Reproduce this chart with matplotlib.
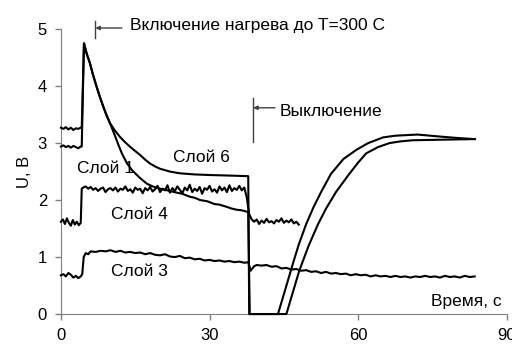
import matplotlib
matplotlib.use('Agg')
import matplotlib.pyplot as plt

plt.rcParams['font.family'] = ['Liberation Sans', 'DejaVu Sans']

# Слой 6
t6 = [0, 0.5, 1, 1.5, 2, 2.5, 3, 3.5, 4.0, 4.2, 4.65, 5.2, 5.86, 6.5, 7.2, 7.9, 8.55, 9.2, 9.9,
      10.9, 11.9, 12.9, 13.9, 15, 16, 17, 18, 19, 20, 22, 24, 27, 30, 34, 37.8, 38.0,
      45.5, 46.8, 48.1, 50, 51.9, 53.5, 55.5, 58.2, 60, 61.6, 64, 66.3, 68.5, 71, 77, 83.5]
u6 = [3.27, 3.25, 3.28, 3.24, 3.27, 3.23, 3.26, 3.25, 3.27, 3.27, 4.75, 4.57, 4.40, 4.19, 3.99, 3.80, 3.64, 3.49, 3.35,
      3.22, 3.11, 3.02, 2.94, 2.86, 2.79, 2.71, 2.64, 2.59, 2.55, 2.50, 2.47, 2.45, 2.44, 2.43, 2.42, 0,
      0, 0.38, 0.76, 1.20, 1.58, 1.85, 2.14, 2.46, 2.66, 2.82, 2.93, 3.00, 3.03, 3.05, 3.06, 3.07]

# Слой 1
t1 = [0, 0.5, 1, 1.5, 2, 2.5, 3, 3.5, 4.0, 4.2, 4.65, 5.2, 5.86, 6.5, 7.2, 7.9, 8.55, 9.2, 9.9,
      10.9, 11.6, 12.3, 13.3, 14.3, 15.8, 17.3, 18.5, 20, 21.5, 23.4, 24.5, 26, 27, 28.1, 29.5, 31, 32, 33.5,
      34.5, 35.5, 36.5, 37.8, 38.1,
      43.8, 45, 46.8, 48, 49.5, 51, 52.5, 54.5, 57, 59.6, 62, 65, 67.5, 69.7, 72, 75.8, 80, 83.5]
u1 = [2.94, 2.96, 2.93, 2.95, 2.92, 2.95, 2.93, 2.91, 2.94, 2.94, 4.75, 4.57, 4.40, 4.19, 3.99, 3.80, 3.64, 3.49, 3.35,
      3.13, 2.97, 2.82, 2.65, 2.53, 2.40, 2.29, 2.24, 2.20, 2.17, 2.13, 2.11, 2.06, 2.04, 2.00, 1.98, 1.93, 1.92, 1.88,
      1.85, 1.83, 1.82, 1.79, 0,
      0, 0.35, 0.88, 1.22, 1.58, 1.88, 2.14, 2.46, 2.72, 2.88, 3.00, 3.10, 3.13, 3.14, 3.15, 3.12, 3.09, 3.07]

# Слой 4
t4 = [0, 0.4, 0.8, 1.2, 1.6, 2.0, 2.4, 2.8, 3.2, 3.6, 4.0, 4.2,
      4.5, 5.0, 5.5, 6.0, 6.5, 7.0, 7.5, 8.0, 8.5, 9.0, 9.5, 10.0, 10.5, 11.0, 11.5, 12.0, 12.5, 13.0,
      13.5, 14.0, 14.5, 15.0, 15.5, 16.0, 16.5, 17.0, 17.5, 18.0, 18.5, 19.0, 19.5, 20.0, 20.5, 21.0,
      21.5, 22.0, 22.5, 23.0, 23.5, 24.0, 24.5, 25.0, 25.5, 26.0, 26.5, 27.0, 27.5, 28.0, 28.5, 29.0,
      29.5, 30.0, 30.5, 31.0, 31.5, 32.0, 32.5, 33.0, 33.5, 34.0, 34.5, 35.0, 35.5, 36.0, 36.5, 37.0,
      37.5, 38.0, 38.5,
      39.0, 39.5, 40.0, 40.5, 41.0, 41.5, 42.0, 42.5, 43.0, 43.5, 44.0, 44.5, 45.0, 45.5, 46.0, 46.5,
      47.0, 47.5, 48.0]
u4 = [1.62, 1.66, 1.58, 1.68, 1.60, 1.55, 1.65, 1.57, 1.62, 1.56, 1.60, 2.20,
      2.22, 2.24, 2.20, 2.23, 2.18, 2.21, 2.16, 2.20, 2.22, 2.14,
      2.19, 2.21, 2.17, 2.22, 2.15, 2.20, 2.18, 2.24, 2.16, 2.19,
      2.13, 2.22, 2.18, 2.20, 2.12, 2.21, 2.17, 2.23, 2.15, 2.19,
      2.25, 2.14, 2.20, 2.17, 2.26, 2.13, 2.21, 2.16, 2.24, 2.18,
      2.12, 2.22, 2.17, 2.27, 2.14, 2.20, 2.16, 2.23, 2.11, 2.21,
      2.18, 2.25, 2.15, 2.19, 2.13, 2.24, 2.17, 2.22, 2.14, 2.26,
      2.16, 2.21, 2.18, 2.25, 2.17, 2.22,
      2.05, 1.75, 1.66,
      1.62, 1.66, 1.58, 1.64, 1.60, 1.67, 1.61, 1.63, 1.59, 1.65, 1.62, 1.68, 1.60, 1.64, 1.61, 1.66,
      1.59, 1.62, 1.57]

# Слой 3
t3 = [0, 0.5, 1, 1.5, 2, 2.5, 3, 3.5, 4.0, 4.3, 4.6, 5.0, 5.5, 6, 7, 8, 9, 10, 11, 12, 13, 14, 15, 16,
      17, 18, 19, 20, 21, 22, 23, 24, 25, 26, 27, 28, 29, 30, 31, 32, 33, 34, 35, 36, 37, 37.8, 38.3,
      39, 39.5, 40.5, 41.5, 42.5, 43.5, 44.5, 45.5, 46.5, 47.5, 48.5, 49.5, 50.5, 51.5, 52.5, 53.5,
      54.5, 55.5, 56.5, 57.5, 58.5, 59.5, 60.5, 61.5, 62.5, 63.5, 64.5, 65.5, 66.5, 67.5, 68.5, 69.5,
      70.5, 71.5, 72.5, 73.5, 74.5, 75.5, 76.5, 77.5, 78.5, 79.5, 80.5, 81.5, 82.5, 83.5]
u3 = [0.68, 0.70, 0.66, 0.72, 0.69, 0.64, 0.67, 0.63, 0.66, 0.70, 1.00, 1.07, 1.05, 1.10, 1.09, 1.11,
      1.10, 1.12, 1.09, 1.11, 1.08, 1.09, 1.07, 1.08, 1.05, 1.07, 1.04, 1.03, 1.05, 1.01, 1.00, 1.02,
      0.98, 0.99, 0.96, 0.97, 0.94, 0.95, 0.93, 0.94, 0.92, 0.93, 0.91, 0.92, 0.90, 0.91, 0.76,
      0.84, 0.86, 0.85, 0.86, 0.83, 0.84, 0.80, 0.81, 0.78, 0.79, 0.76, 0.77, 0.74, 0.75, 0.72, 0.74,
      0.71, 0.72, 0.70, 0.71, 0.68, 0.70, 0.68, 0.69, 0.66, 0.68, 0.66, 0.67, 0.65, 0.67, 0.65, 0.66,
      0.64, 0.66, 0.65, 0.67, 0.65, 0.66, 0.64, 0.67, 0.65, 0.66, 0.64, 0.67, 0.65, 0.66]

fig = plt.figure(figsize=(5.12, 3.47), dpi=100)
ax = fig.add_axes([0.119, 0.095, 0.871, 0.821])

for t, u in [(t3, u3), (t4, u4), (t1, u1), (t6, u6)]:
    ax.plot(t, u, color='black', lw=1.5, clip_on=False, zorder=3)

ax.set_xlim(0, 90)
ax.set_ylim(0, 5)
ax.set_xticks([0, 30, 60, 90])
ax.set_yticks([0, 1, 2, 3, 4, 5])
for s in ['top', 'right']:
    ax.spines[s].set_visible(False)
for s in ['left', 'bottom']:
    ax.spines[s].set_color('#808080')
ax.tick_params(colors='#808080', length=4, width=1, labelcolor='black', labelsize=12, pad=6)
ax.set_ylabel('U, В', fontsize=12, labelpad=4)

fs = 12.5
# annotation: heating on
ax.plot([6.87, 6.87], [4.84, 5.14], color='#404040', lw=1, clip_on=False)
ax.annotate('', xy=(6.95, 5.02), xytext=(12.3, 5.02),
            arrowprops=dict(arrowstyle='-|>', color='#404040', lw=1, mutation_scale=6,
                            shrinkA=0, shrinkB=0), annotation_clip=False)
ax.text(13.9, 5.07, 'Включение нагрева до T=300 C', fontsize=fs, va='center', ha='left')

# annotation: heating off
ax.plot([38.7, 38.7], [3.02, 3.79], color='#404040', lw=1, clip_on=False)
ax.annotate('', xy=(38.8, 3.62), xytext=(43.2, 3.62),
            arrowprops=dict(arrowstyle='-|>', color='#404040', lw=1, mutation_scale=6,
                            shrinkA=0, shrinkB=0))
ax.text(44.2, 3.56, 'Выключение', fontsize=fs, va='center', ha='left')

ax.text(28.3, 2.75, 'Слой 6', fontsize=fs, ha='center', va='center')
ax.text(8.9, 2.56, 'Слой 1', fontsize=fs, ha='center', va='center')
ax.text(15.8, 1.74, 'Слой 4', fontsize=fs, ha='center', va='center')
ax.text(15.8, 0.75, 'Слой 3', fontsize=fs, ha='center', va='center')
ax.text(81.8, 0.22, 'Время, с', fontsize=fs, ha='center', va='center')

plt.savefig('out.png', dpi=100)
